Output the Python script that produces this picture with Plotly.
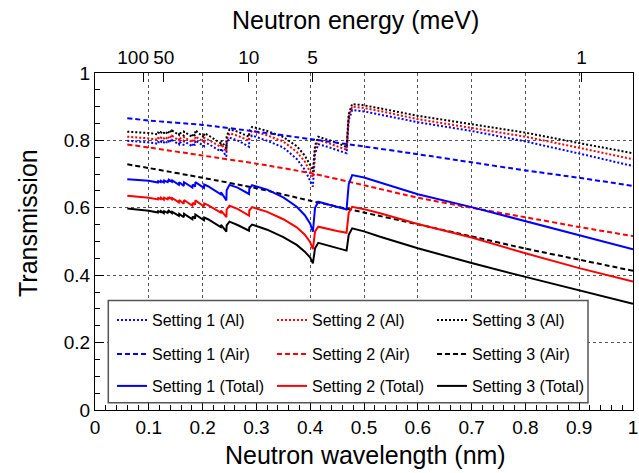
import plotly.graph_objects as go

# Wavelength grid (nm) used for the Bragg-edge curves (Al and Total)
lam = [0.060, 0.080, 0.100, 0.117, 0.1175, 0.122, 0.1225, 0.128, 0.1285, 0.135,
       0.1355, 0.137, 0.1375, 0.143, 0.1435, 0.156, 0.1565, 0.165, 0.1655, 0.181,
       0.1815, 0.186, 0.1865, 0.2025, 0.203, 0.210, 0.2338, 0.2343, 0.2442, 0.2447,
       0.250, 0.265, 0.2863, 0.2868, 0.292, 0.300, 0.320, 0.350, 0.375, 0.390,
       0.400, 0.405, 0.409, 0.415, 0.430, 0.450, 0.4676, 0.4716, 0.478, 0.500,
       0.530, 0.600, 0.700, 0.800, 0.900, 1.000]

al_1 = [0.799, 0.797, 0.794, 0.790, 0.795, 0.792, 0.796, 0.791, 0.798, 0.793,
        0.797, 0.795, 0.802, 0.796, 0.801, 0.788, 0.797, 0.786, 0.798, 0.782,
        0.792, 0.786, 0.800, 0.783, 0.795, 0.790, 0.768, 0.776, 0.752, 0.790,
        0.808, 0.800, 0.781, 0.805, 0.815, 0.810, 0.799, 0.779, 0.745, 0.713,
        0.680, 0.663, 0.760, 0.789, 0.782, 0.772, 0.762, 0.860, 0.890, 0.886,
        0.877, 0.854, 0.828, 0.797, 0.761, 0.724]
al_2 = [0.811, 0.809, 0.806, 0.802, 0.807, 0.804, 0.808, 0.803, 0.810, 0.805,
        0.809, 0.807, 0.814, 0.808, 0.813, 0.800, 0.809, 0.798, 0.810, 0.794,
        0.804, 0.798, 0.812, 0.795, 0.807, 0.802, 0.781, 0.789, 0.767, 0.801,
        0.821, 0.814, 0.799, 0.817, 0.829, 0.825, 0.815, 0.797, 0.766, 0.737,
        0.707, 0.690, 0.775, 0.801, 0.794, 0.783, 0.772, 0.870, 0.900, 0.896,
        0.887, 0.863, 0.838, 0.811, 0.778, 0.744]
al_3 = [0.826, 0.824, 0.822, 0.818, 0.823, 0.820, 0.824, 0.819, 0.826, 0.821,
        0.825, 0.823, 0.830, 0.824, 0.829, 0.816, 0.825, 0.814, 0.826, 0.810,
        0.820, 0.814, 0.830, 0.809, 0.821, 0.816, 0.791, 0.799, 0.776, 0.812,
        0.833, 0.826, 0.811, 0.828, 0.840, 0.837, 0.828, 0.810, 0.783, 0.755,
        0.727, 0.707, 0.785, 0.811, 0.804, 0.793, 0.780, 0.878, 0.908, 0.904,
        0.895, 0.873, 0.848, 0.823, 0.792, 0.762]

tot_1 = [0.685, 0.683, 0.680, 0.675, 0.679, 0.676, 0.680, 0.675, 0.681, 0.676,
         0.679, 0.677, 0.683, 0.677, 0.681, 0.668, 0.676, 0.665, 0.676, 0.660,
         0.669, 0.663, 0.676, 0.659, 0.669, 0.664, 0.640, 0.646, 0.622, 0.652,
         0.668, 0.660, 0.641, 0.656, 0.667, 0.663, 0.654, 0.631, 0.603, 0.578,
         0.553, 0.529, 0.600, 0.618, 0.612, 0.604, 0.595, 0.670, 0.697, 0.690,
         0.675, 0.640, 0.602, 0.560, 0.518, 0.477]
tot_2 = [0.636, 0.633, 0.630, 0.625, 0.629, 0.626, 0.630, 0.624, 0.630, 0.625,
         0.628, 0.626, 0.632, 0.625, 0.629, 0.616, 0.623, 0.612, 0.623, 0.606,
         0.615, 0.609, 0.622, 0.604, 0.613, 0.608, 0.586, 0.592, 0.572, 0.595,
         0.606, 0.597, 0.577, 0.592, 0.602, 0.598, 0.588, 0.566, 0.542, 0.520,
         0.498, 0.477, 0.530, 0.544, 0.538, 0.531, 0.526, 0.585, 0.603, 0.596,
         0.584, 0.552, 0.512, 0.465, 0.421, 0.381]
tot_3 = [0.598, 0.595, 0.591, 0.586, 0.590, 0.587, 0.590, 0.584, 0.590, 0.585,
         0.588, 0.586, 0.591, 0.584, 0.588, 0.576, 0.582, 0.572, 0.582, 0.566,
         0.574, 0.568, 0.580, 0.563, 0.571, 0.566, 0.543, 0.549, 0.529, 0.548,
         0.559, 0.549, 0.532, 0.542, 0.550, 0.546, 0.535, 0.513, 0.490, 0.470,
         0.452, 0.435, 0.480, 0.496, 0.489, 0.481, 0.473, 0.520, 0.539, 0.530,
         0.514, 0.480, 0.436, 0.395, 0.355, 0.315]

# Air transmission (smooth)
lam_air = [0.06, 0.1, 0.2, 0.3, 0.4, 0.5, 0.6, 0.7, 0.8, 0.9, 1.0]
air_1 = [0.866, 0.859, 0.846, 0.826, 0.804, 0.782, 0.759, 0.735, 0.711, 0.689, 0.665]
air_2 = [0.788, 0.779, 0.755, 0.731, 0.703, 0.667, 0.630, 0.600, 0.572, 0.543, 0.516]
air_3 = [0.729, 0.718, 0.689, 0.658, 0.621, 0.586, 0.551, 0.515, 0.479, 0.446, 0.413]

# Top axis: neutron energy labels (meV) and their wavelengths (nm)
energy_labels = ["100\u00a0\u00a0\u00a0\u00a0", "50", "10", "5", "1"]
energy_lam = [0.09045, 0.1279, 0.2860, 0.4045, 0.9045]

colors = ["#0000ff", "#ff0000", "#000000"]
FONT = "Liberation Sans"
DASH = "5px,3px"
DOT = "2px,2px"

fig = go.Figure()
for i, (ys, c) in enumerate(zip([al_1, al_2, al_3], colors)):
    fig.add_trace(go.Scatter(x=lam, y=ys, mode="lines", name=f"Setting {i+1} (Al)",
                             line=dict(color=c, width=2, dash=DOT), legend="legend"))
for i, (ys, c) in enumerate(zip([air_1, air_2, air_3], colors)):
    fig.add_trace(go.Scatter(x=lam_air, y=ys, mode="lines", name=f"Setting {i+1} (Air)",
                             line=dict(color=c, width=2, dash=DASH, shape="spline", smoothing=0.6),
                             legend="legend2"))
for i, (ys, c) in enumerate(zip([tot_1, tot_2, tot_3], colors)):
    fig.add_trace(go.Scatter(x=lam, y=ys, mode="lines", name=f"Setting {i+1} (Total)",
                             line=dict(color=c, width=2), legend="legend3"))

# invisible trace to activate the top axis
fig.add_trace(go.Scatter(x=[0, 1], y=[None, None], xaxis="x2", showlegend=False,
                         hoverinfo="skip"))

W, H = 639, 473
L, R, T, B = 95, 6, 73, 63
pw, ph = W - L - R, H - T - B

def px2x(p):
    return (p - L) / pw

def px2y(p):
    return (H - B - p) / ph

legend_common = dict(orientation="h", xanchor="left", yanchor="middle",
                     bgcolor="rgba(0,0,0,0)", borderwidth=0, entrywidth=115,
                     font=dict(family=FONT, size=16, color="black"),
                     traceorder="normal")
fig.update_layout(
    width=W, height=H,
    margin=dict(l=L, r=R, t=T, b=B, autoexpand=False),
    paper_bgcolor="white", plot_bgcolor="white",
    font=dict(family=FONT, color="black"),
    legend=dict(x=px2x(112), y=px2y(320), **legend_common),
    legend2=dict(x=px2x(112), y=px2y(354), **legend_common),
    legend3=dict(x=px2x(112), y=px2y(386), **legend_common),
    xaxis=dict(range=[0, 1], dtick=0.1, tick0=0, ticks="inside", ticklen=9,
               tickcolor="black", showline=True, linecolor="black", linewidth=1,
               mirror=False, showgrid=True, gridcolor="#555", griddash="dot",
               gridwidth=1, zeroline=False, tickfont=dict(size=19, family=FONT),
               automargin=False, tickangle=0,
               minor=dict(dtick=0.02, ticks="inside", ticklen=5, tickcolor="black",
                          showgrid=False)),
    xaxis2=dict(range=[0, 1], overlaying="x", side="top", anchor="y",
                tickvals=energy_lam, ticktext=energy_labels, ticks="inside",
                ticklen=9, tickcolor="black", showline=True, linecolor="black",
                linewidth=1, showgrid=False, zeroline=False,
                tickfont=dict(size=19, family=FONT), automargin=False, tickangle=0),
    yaxis=dict(range=[0, 1], dtick=0.2, tick0=0, ticks="inside", ticklen=9,
               tickcolor="black", showline=True, linecolor="black", linewidth=1,
               mirror=True, showgrid=True, gridcolor="#555", griddash="dot",
               gridwidth=1, zeroline=False, tickfont=dict(size=19, family=FONT),
               automargin=False,
               minor=dict(dtick=0.05, ticks="inside", ticklen=5, tickcolor="black",
                          showgrid=False)),
    showlegend=True,
)

fig.add_shape(type="rect", xref="paper", yref="paper",
              x0=px2x(108.3), x1=px2x(588), y0=px2y(402.7), y1=px2y(300.6),
              line=dict(color="#555", width=1.5), fillcolor="white", layer="above")

fig.add_annotation(text="Neutron wavelength (nm)", xref="paper", yref="paper",
                   x=px2x(365), y=px2y(455), showarrow=False,
                   font=dict(size=25, family=FONT), xanchor="center", yanchor="middle")
fig.add_annotation(text="Neutron energy (meV)", xref="paper", yref="paper",
                   x=px2x(355.5), y=px2y(20), showarrow=False,
                   font=dict(size=25, family=FONT), xanchor="center", yanchor="middle")
fig.add_annotation(text="Transmission", xref="paper", yref="paper",
                   x=px2x(28), y=px2y(223), showarrow=False, textangle=-90,
                   font=dict(size=25, family=FONT), xanchor="center", yanchor="middle")

fig.write_html("out.html", config={"displayModeBar": False},
               post_script="document.body.style.margin='0';document.body.style.overflow='hidden';")
